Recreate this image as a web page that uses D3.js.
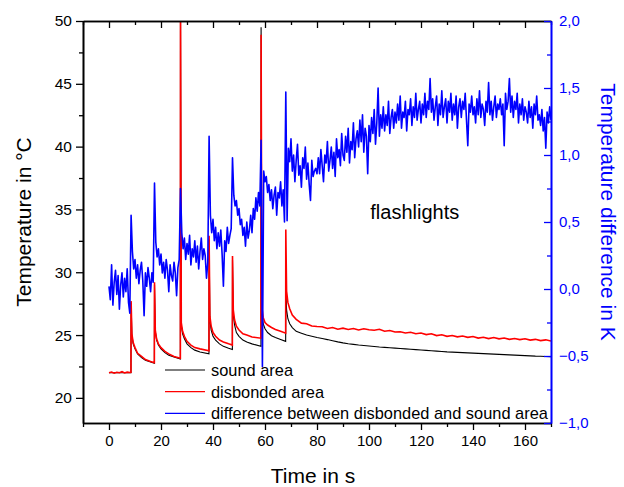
<!DOCTYPE html>
<html>
<head>
<meta charset="utf-8">
<script src="https://cdn.jsdelivr.net/npm/d3@7/dist/d3.min.js"></script>
<style>
body { margin: 0; background: #fff; }
text { font-family: "Liberation Sans", Arial, sans-serif; }
</style>
</head>
<body>
<div id="chart"></div>
<script>
// tick values
var xMajor = [0, 20, 40, 60, 80, 100, 120, 140, 160];
var xMinor = [-10, 10, 30, 50, 70, 90, 110, 130, 150, 170];
var tempMajor = [20, 25, 30, 35, 40, 45, 50];
var tempMinor = [22.5, 27.5, 32.5, 37.5, 42.5, 47.5];
var diffMajor = [-1.0, -0.5, 0.0, 0.5, 1.0, 1.5, 2.0];
var diffMinor = [-0.75, -0.25, 0.25, 0.75, 1.25, 1.75];

var seriesNames = ["sound area", "disbonded area", "difference between disbonded and sound area"];

// temperature curves (time in s, temperature in °C)
var tempTime = [
    0, 1, 2, 3, 4, 5, 6, 7, 8, 8.45,
    8.5, 8.8, 9.3, 10, 11, 12.5, 14, 16, 17.45,
    17.5, 17.8, 18.3, 19, 20, 21.5, 23, 25, 27.45,
    27.5, 27.8, 28.3, 29, 30, 31.5, 33, 35, 38.45,
    38.5, 38.8, 39.3, 40, 41, 42.5, 44, 46, 47.45,
    47.5, 47.8, 48.3, 49, 50, 51.5, 53, 55, 58.45,
    58.5, 58.8, 59.3, 60, 61, 62.5, 64, 66, 67.95,
    68, 68.3, 68.8, 69.5, 70.5, 72, 74, 76, 78, 80,
    82, 84, 86, 88, 90, 92, 94, 96, 98, 100,
    102, 104, 106, 108, 110, 112, 114, 116, 118, 120,
    122, 124, 126, 128, 130, 132, 134, 136, 138, 140,
    142, 144, 146, 148, 150, 152, 154, 156, 158, 160,
    162, 164, 166, 168, 170
];
var soundTemp = [
    22.0, 22.0, 22.0, 22.0, 22.0, 22.0, 22.0, 22.0, 22.0, 22.0,
    27.6, 25.0, 24.3, 23.9, 23.5, 23.2, 23.0, 22.85, 22.75,
    29.0, 25.3, 24.6, 24.2, 23.9, 23.6, 23.4, 23.25, 23.1,
    51.0, 25.8, 25.1, 24.7, 24.3, 24.0, 23.8, 23.65, 23.5,
    32.6, 26.2, 25.4, 24.9, 24.6, 24.3, 24.1, 23.95, 23.85,
    31.0, 26.6, 25.8, 25.2, 24.9, 24.6, 24.45, 24.3, 24.1,
    49.5, 26.8, 25.9, 25.5, 25.2, 24.95, 24.8, 24.65, 24.5,
    28.5, 27.0, 26.3, 25.9, 25.6, 25.3, 25.15, 25.0, 24.9, 24.8,
    24.72, 24.64, 24.55, 24.46, 24.38, 24.31, 24.26, 24.21, 24.17, 24.13,
    24.09, 24.05, 24.02, 23.99, 23.96, 23.93, 23.9, 23.87, 23.84, 23.81,
    23.78, 23.75, 23.72, 23.69, 23.66, 23.64, 23.62, 23.6, 23.58, 23.56,
    23.54, 23.52, 23.5, 23.48, 23.46, 23.44, 23.42, 23.4, 23.38, 23.36,
    23.34, 23.32, 23.31, 23.29, 23.28
];
var disbondedTemp = [
    22.0, 22.06, 21.96, 22.04, 22.0, 22.08, 21.98, 22.05, 22.02, 22.04,
    27.7, 25.1, 24.4, 24.0, 23.55, 23.3, 23.05, 22.9, 22.8,
    29.2, 25.4, 24.7, 24.3, 24.0, 23.7, 23.5, 23.3, 23.15,
    51.0, 26.0, 25.3, 24.9, 24.5, 24.2, 24.0, 23.9, 23.75,
    32.9, 26.5, 25.7, 25.2, 24.9, 24.6, 24.45, 24.3, 24.2,
    31.3, 27.0, 26.2, 25.7, 25.4, 25.1, 25.0, 24.85, 24.75,
    48.9, 27.2, 26.4, 26.0, 25.8, 25.6, 25.45, 25.3, 25.15,
    33.4, 28.5, 27.6, 27.1, 26.6, 26.25, 25.95, 25.9, 25.72, 25.68,
    25.66, 25.52, 25.6, 25.46, 25.55, 25.44, 25.52, 25.4, 25.5, 25.42,
    25.38, 25.46, 25.3, 25.36, 25.24, 25.26, 25.16, 25.22, 25.1, 25.16,
    25.04, 25.1, 24.96, 25.02, 24.9, 24.96, 24.86, 24.92, 24.82, 24.88,
    24.76, 24.82, 24.72, 24.8, 24.7, 24.76, 24.66, 24.72, 24.64, 24.7,
    24.6, 24.66, 24.56, 24.62, 24.52
];

// temperature difference in K, one value every diffStep seconds from t = 0
var diffStep = 0.5;
var diffValues = [
    // 0 - 8 s
    0.02, -0.08, 0.18, -0.12, 0.05, 0.14, -0.04, 0.10, -0.15, 0.03, 0.12, -0.06, 0.08, -0.02, 0.15, -0.10, -0.18,
    0.55,
    // 9 - 17 s
    0.28, 0.15, 0.22, 0.08, 0.18, 0.04, 0.14, 0.20, 0.06, -0.20, 0.12, 0.02, 0.16, 0.08, -0.02, 0.12, 0.05,
    0.79,
    // 18 - 27 s
    0.35, 0.24, 0.30, 0.18, 0.26, 0.12, 0.20, 0.08, 0.22, 0.14, -0.02, 0.18, 0.10, 0.06, 0.20, 0.12, -0.05, 0.16, 0.22,
    0.75,
    // 28 - 38 s
    0.42, 0.30, 0.38, 0.22, 0.34, 0.26, 0.40, 0.18, 0.30, 0.24, 0.36, 0.20, 0.32, 0.15, 0.28, 0.38, 0.22, 0.30, 0.25, 0.08, 0.20,
    1.14,
    // 39 - 47 s
    0.55, 0.42, 0.52, 0.36, 0.46, 0.30, 0.42, 0.32, 0.44, 0.26, 0.02, 0.36, 0.28, 0.46, 0.34, 0.40, 0.45,
    0.98,
    // 48 - 58 s
    0.70, 0.62, 0.66, 0.55, 0.60, 0.48, 0.52, 0.40, 0.46, 0.32, 0.50, 0.38, 0.44, 0.55, 0.42, 0.60, 0.52, 0.68, 0.58, 0.72, 0.62,
    1.11, -0.58,
    // 59.5 - 67.5 s
    0.88, 0.80, 0.84, 0.72, 0.78, 0.66, 0.74, 0.60, 0.70, 0.76, 0.55, 0.72, 0.68, 0.80, 0.62, 0.74, 0.50,
    1.47, 0.51,
    // 69 - 80 s
    1.05, 0.95, 1.12, 0.88, 1.00, 0.80, 0.96, 1.08, 0.85, 0.92, 0.76, 0.98, 0.90, 1.06, 0.82, 0.94, 0.78, 0.66, 0.96, 0.84, 0.88, 0.90, 0.86,
    // 80.5 - 170 s
    0.98, 0.86, 1.04, 0.92, 0.80, 1.00, 0.94, 1.10, 0.88, 0.96,
    1.06, 0.90, 1.02, 0.84, 1.12, 0.98, 1.04, 0.92, 1.16, 1.00,
    0.96, 1.14, 1.02, 1.20, 0.94, 1.10, 1.04, 1.24, 0.98, 1.12,
    1.18, 1.06, 1.26, 1.10, 1.30, 1.02, 1.20, 1.14, 0.86, 1.22,
    1.10, 1.28, 1.16, 1.34, 1.08, 1.24, 1.50, 1.14, 1.30, 1.20,
    1.36, 1.18, 1.30, 1.22, 1.40, 1.16, 1.28, 1.34, 1.20, 1.32,
    1.24, 1.38, 1.26, 1.44, 1.20, 1.32, 1.28, 1.40, 1.18, 1.34,
    1.30, 1.42, 1.22, 1.36, 1.28, 1.46, 1.26, 1.34, 1.40, 1.24,
    1.38, 1.30, 1.46, 1.28, 1.40, 1.34, 1.57, 1.32, 1.42, 1.26,
    1.36, 1.44, 1.22, 1.38, 1.30, 1.48, 1.28, 1.36, 1.42, 1.24,
    1.40, 1.32, 1.46, 1.26, 1.38, 1.30, 1.44, 1.20, 1.36, 1.42,
    1.28, 1.40, 1.34, 1.46, 1.26, 1.07, 1.38, 1.32, 1.44, 1.30,
    1.36, 1.24, 1.42, 1.30, 1.48, 1.28, 1.38, 1.34, 1.22, 1.40,
    1.32, 1.54, 1.30, 1.40, 1.26, 1.36, 1.44, 1.28, 1.38, 1.34,
    1.42, 1.30, 1.38, 1.07, 1.46, 1.34, 1.40, 1.57, 1.32, 1.44,
    1.28, 1.40, 1.34, 1.46, 1.24, 1.38, 1.30, 1.42, 1.26, 1.36,
    1.32, 1.24, 1.40, 1.28, 1.36, 1.20, 1.38, 1.30, 1.44, 1.26,
    1.30, 1.22, 1.34, 1.18, 1.28, 1.05, 1.32, 1.24, 1.36, 1.26
];

var containerWidth = 624, containerHeight = 487;
var margin = {top: 21, right: 73, bottom: 64, left: 83};
var width = containerWidth - margin.left - margin.right;
var height = containerHeight - margin.top - margin.bottom;
var blue = "#0000ff";

var svg = d3.select("#chart")
    .append("svg")
    .attr("width", containerWidth)
    .attr("height", containerHeight);

var xScale = d3.scaleLinear().domain([-10, 170]).range([0, width]);
var yScale = d3.scaleLinear().domain([18, 50]).range([height, 0]);
var y2Scale = d3.scaleLinear().domain([-1, 2]).range([height, 0]);

var focus = svg.append("g")
    .attr("transform", "translate(" + margin.left + "," + margin.top + ")");

svg.append("defs").append("clipPath")
    .attr("id", "plot-clip")
    .append("rect")
    .attr("width", width)
    .attr("height", height);

// data lines
var tempLine = function(values) {
    return d3.line()
        .x(function(d, i) { return xScale(tempTime[i]); })
        .y(function(d) { return yScale(d); })(values);
};
var diffLine = d3.line()
    .x(function(d, i) { return xScale(i * diffStep); })
    .y(function(d) { return y2Scale(d); });

var gData = focus.append("g").attr("clip-path", "url(#plot-clip)");
gData.append("path")
    .attr("fill", "none")
    .attr("stroke", "#000")
    .attr("stroke-width", 1.1)
    .attr("d", tempLine(soundTemp));
gData.append("path")
    .attr("fill", "none")
    .attr("stroke", "#ff0000")
    .attr("stroke-width", 1.6)
    .attr("d", tempLine(disbondedTemp));
gData.append("path")
    .datum(diffValues)
    .attr("fill", "none")
    .attr("stroke", blue)
    .attr("stroke-width", 1.6)
    .attr("stroke-linejoin", "round")
    .attr("d", diffLine);

// axes
function styleAxis(g, color, fontSize) {
    g.select(".domain").attr("stroke", color).attr("stroke-width", 1.6);
    g.selectAll(".tick line").attr("stroke", color).attr("stroke-width", 1.3);
    g.selectAll(".tick text").attr("fill", color).style("font-size", fontSize + "px")
        .style("font-family", "'Liberation Sans', Arial, sans-serif");
}

var fmtComma = function(d) { return d3.format(".1f")(d).replace(".", ","); };

// bottom
focus.append("g").attr("transform", "translate(0," + height + ")")
    .call(d3.axisBottom(xScale).tickValues(xMinor).tickSize(4).tickSizeOuter(0).tickFormat(""))
    .call(styleAxis, "#000", 15);
focus.append("g").attr("transform", "translate(0," + height + ")")
    .call(d3.axisBottom(xScale).tickValues(xMajor).tickSize(7).tickSizeOuter(0).tickPadding(5).tickFormat(d3.format("d")))
    .call(styleAxis, "#000", 15);
// top
focus.append("g")
    .call(d3.axisTop(xScale).tickValues(xMinor).tickSize(-4).tickSizeOuter(0).tickFormat(""))
    .call(styleAxis, "#000", 15);
focus.append("g")
    .call(d3.axisTop(xScale).tickValues(xMajor).tickSize(-7).tickSizeOuter(0).tickFormat(""))
    .call(styleAxis, "#000", 15);
// left
focus.append("g")
    .call(d3.axisLeft(yScale).tickValues(tempMinor).tickSize(4).tickSizeOuter(0).tickFormat(""))
    .call(styleAxis, "#000", 15);
focus.append("g")
    .call(d3.axisLeft(yScale).tickValues(tempMajor).tickSize(7).tickSizeOuter(0).tickPadding(4).tickFormat(d3.format("d")))
    .call(styleAxis, "#000", 15.5);
// right (blue)
focus.append("g").attr("transform", "translate(" + width + ",0)")
    .call(d3.axisRight(y2Scale).tickValues(diffMinor).tickSize(-4).tickSizeOuter(0).tickFormat(""))
    .call(styleAxis, blue, 15);
focus.append("g").attr("transform", "translate(" + width + ",0)")
    .call(d3.axisRight(y2Scale).tickValues(diffMajor).tickSize(-7).tickSizeOuter(0).tickPadding(8).tickFormat(fmtComma))
    .call(styleAxis, blue, 15);

// axis titles
svg.append("text")
    .attr("text-anchor", "middle")
    .attr("transform", "translate(" + (margin.left + width / 2 - 4) + ",483)")
    .style("font-size", "21px")
    .text("Time in s");

svg.append("text")
    .attr("text-anchor", "middle")
    .attr("transform", "translate(31," + (margin.top + height / 2) + ") rotate(-90)")
    .style("font-size", "21px")
    .text("Temperature in °C");

svg.append("text")
    .attr("text-anchor", "middle")
    .attr("transform", "translate(601," + (margin.top + height / 2 - 10) + ") rotate(90)")
    .style("font-size", "21px")
    .attr("fill", blue)
    .text("Temperature difference in K");

// annotation
focus.append("text")
    .attr("x", xScale(100.5))
    .attr("y", yScale(34.2))
    .style("font-size", "20px")
    .text("flashlights");

// legend
var legendColors = ["#000", "#ff0000", blue];
var legend = focus.append("g")
    .attr("transform", "translate(" + (165 - margin.left) + "," + (370 - margin.top) + ")");
seriesNames.forEach(function(name, i) {
    legend.append("line")
        .attr("x1", 0).attr("x2", 40)
        .attr("y1", i * 21.7).attr("y2", i * 21.7)
        .attr("stroke", legendColors[i])
        .attr("stroke-width", 1.2);
    legend.append("text")
        .attr("x", 46)
        .attr("y", i * 21.7 + 6)
        .style("font-size", "16.4px")
        .text(name);
});
</script>
</body>
</html>
